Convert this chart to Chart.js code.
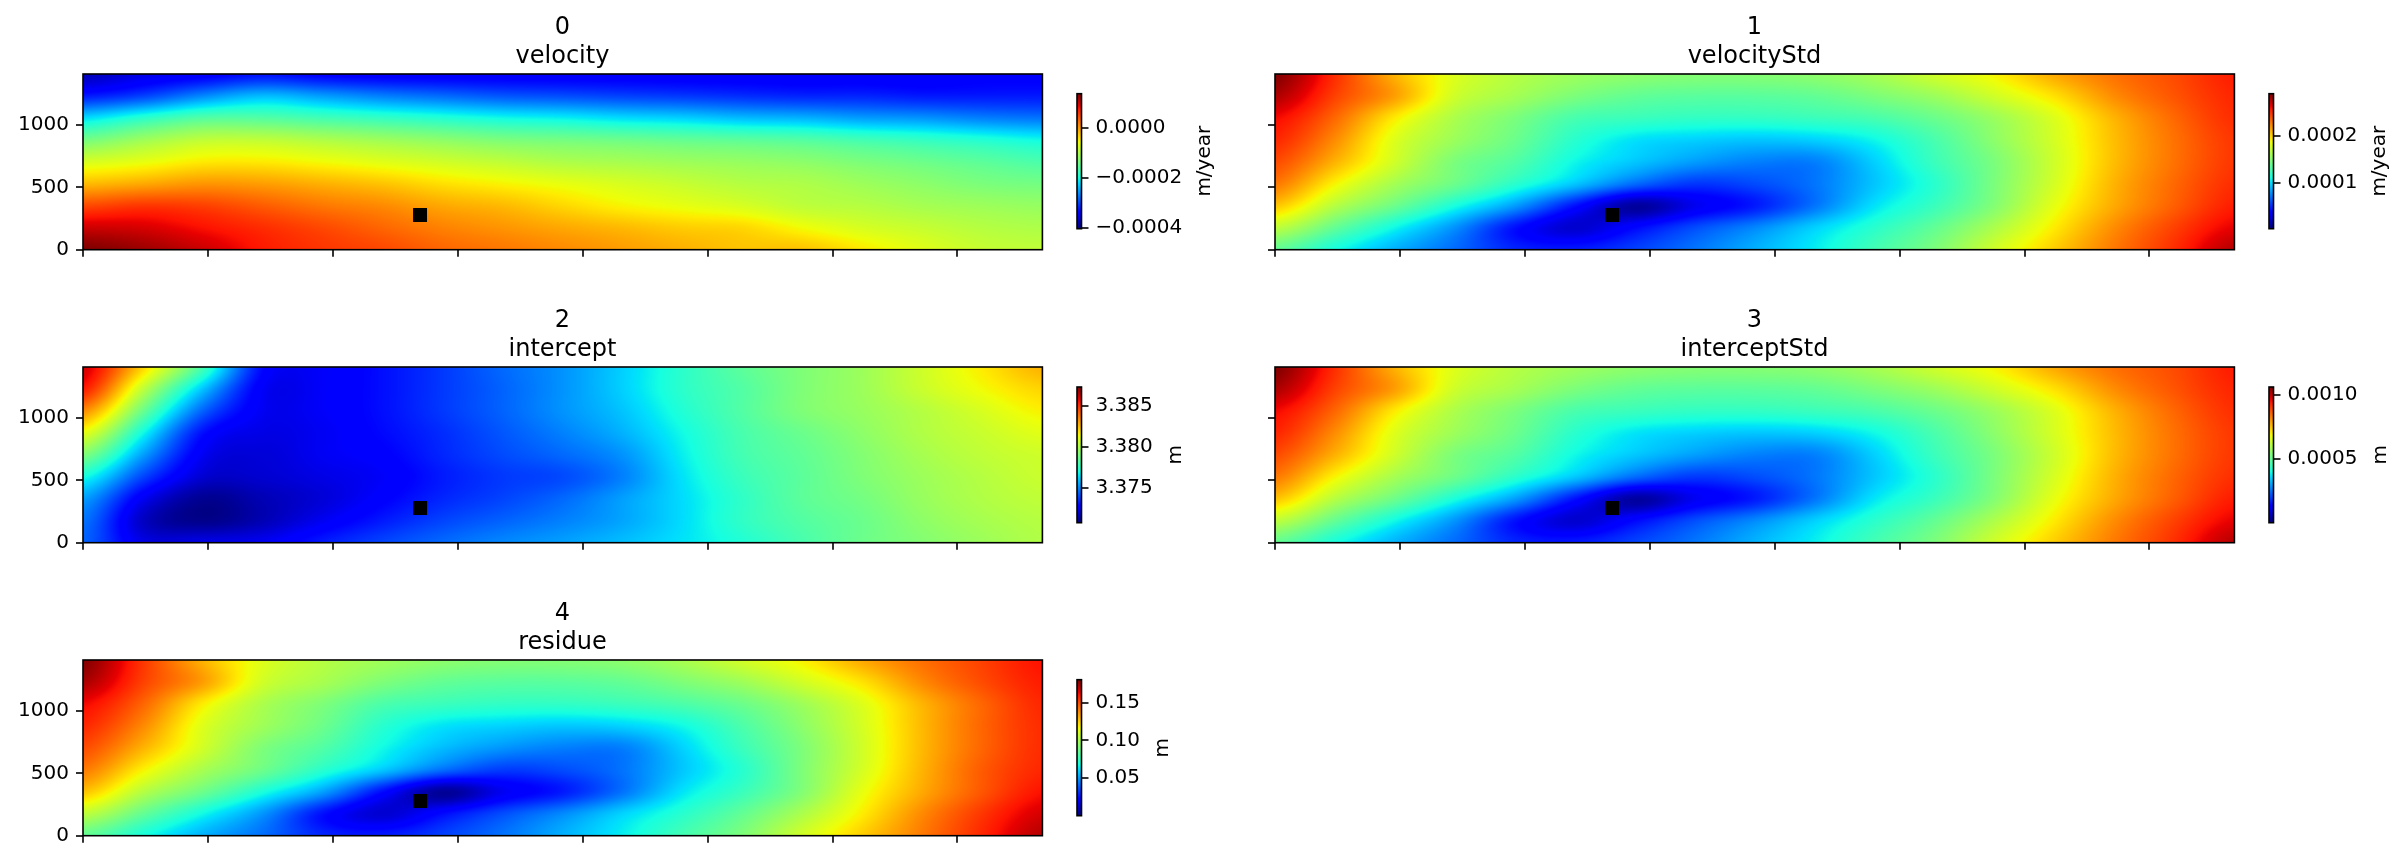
<!DOCTYPE html>
<html><head><meta charset="utf-8">
<script src="https://cdn.jsdelivr.net/npm/chart.js@4"></script>
<style>html,body{margin:0;padding:0;background:#fff;width:2404px;height:863px;overflow:hidden}canvas{position:absolute}</style>
</head><body>
<script>
// Grid nodes of the sampled fields (data coordinates)
const xNodes=[0,240,480,720,960,1200,1440,1680,1920,2160,2400,2640,2880,3120,3360,3600,3840];
const yNodes=[1408,1232,1056,880,704,528,352,176,0];
const xTicks=[0,500,1000,1500,2000,2500,3000,3500];
const yTicks=[0,500,1000];
const markerX=[1349], markerY=[278];

// velocity, in 1e-6 m/year
const velocityMicro=[
[-378,-356,-345,-329,-340,-345,-345,-345,-345,-345,-345,-345,-345,-345,-345,-340,-340],
[-324,-302,-264,-237,-253,-269,-280,-291,-296,-302,-307,-313,-318,-318,-324,-324,-324],
[-220,-188,-161,-161,-172,-182,-193,-204,-210,-220,-226,-237,-242,-253,-258,-269,-275],
[-139,-112,-90,-90,-101,-112,-123,-134,-139,-144,-150,-155,-161,-172,-182,-193,-204],
[-74,-63,-47,-47,-57,-68,-79,-90,-101,-106,-112,-117,-123,-134,-144,-155,-166],
[-19,-9,2,-3,-14,-25,-41,-52,-63,-74,-85,-96,-101,-112,-123,-134,-139],
[46,57,51,35,19,8,-9,-19,-36,-52,-63,-74,-90,-96,-106,-112,-117],
[100,95,78,62,46,29,13,2,-9,-19,-30,-36,-57,-74,-85,-96,-101],
[136,122,100,73,57,46,29,19,8,-3,-14,-25,-25,-47,-68,-85,-90]];
// velocityStd, in 1e-6 m/year
const velocityStdMicro=[
[289,250,209,180,166,157,152,149,149,152,160,175,189,212,229,241,255],
[278,244,215,175,160,146,137,134,134,137,146,157,175,195,221,238,252],
[261,232,192,163,146,128,123,120,120,123,128,140,157,180,209,232,250],
[252,221,180,157,140,117,102,97,94,97,108,128,152,177,206,229,247],
[241,209,175,146,131,108,94,82,74,74,97,123,146,175,206,229,247],
[227,189,160,140,117,94,68,53,59,71,94,117,146,177,209,232,250],
[203,166,140,111,82,42,10,30,45,71,102,123,149,183,212,235,255],
[169,137,108,79,42,22,39,59,76,97,117,137,163,192,221,244,264],
[137,111,88,68,48,45,56,71,88,105,126,146,175,201,227,250,276]];
// intercept, in mm
const interceptMilli=[
[3386.2,3382.1,3377.9,3372.9,3372.5,3373.0,3373.7,3374.5,3375.2,3376.2,3377.4,3378.4,3379.1,3379.7,3380.7,3381.7,3382.7],
[3385.4,3380.4,3376.0,3372.5,3372.5,3373.0,3373.7,3374.4,3375.2,3376.2,3377.4,3378.2,3379.1,3379.7,3380.6,3381.4,3382.1],
[3383.4,3378.7,3374.4,3372.4,3372.5,3373.0,3373.7,3374.4,3375.2,3376.0,3377.2,3378.2,3379.1,3379.6,3380.2,3380.9,3381.6],
[3381.2,3376.9,3373.0,3372.2,3372.4,3372.9,3373.5,3374.2,3374.9,3375.7,3376.9,3378.0,3378.7,3379.4,3380.1,3380.6,3381.1],
[3379.1,3375.4,3372.4,3372.0,3372.4,3372.7,3373.4,3374.0,3374.5,3375.2,3376.7,3377.9,3378.5,3379.2,3379.9,3380.4,3380.7],
[3377.0,3373.9,3371.9,3371.9,3372.2,3372.5,3373.2,3373.7,3374.0,3374.9,3376.5,3377.7,3378.4,3379.1,3379.7,3380.2,3380.6],
[3375.4,3372.4,3371.0,3371.5,3372.0,3372.7,3373.4,3373.9,3374.5,3375.4,3376.4,3377.5,3378.4,3378.9,3379.6,3380.1,3380.4],
[3374.7,3371.7,3370.9,3371.5,3372.4,3373.2,3373.9,3374.4,3374.9,3375.5,3376.4,3377.5,3378.2,3378.7,3379.4,3379.9,3380.2],
[3374.4,3372.2,3372.2,3372.4,3373.2,3373.9,3374.5,3375.0,3375.4,3375.9,3376.5,3377.2,3378.0,3378.7,3379.2,3379.7,3380.1]];
// interceptStd, in 1e-6 m
const interceptStdMicro=[
[1060,913,765,658,605,573,552,542,542,552,584,637,690,775,839,881,935],
[1020,892,786,637,584,531,499,489,489,499,531,573,637,712,807,871,924],
[956,850,701,595,531,467,446,435,435,446,467,510,573,658,765,850,913],
[924,807,658,573,510,425,372,350,340,350,393,467,552,648,754,839,903],
[881,765,637,531,478,393,340,297,266,266,350,446,531,637,754,839,903],
[828,690,584,510,425,340,244,191,212,255,340,425,531,648,765,850,913],
[743,605,510,404,297,149,32,106,159,255,372,446,542,669,775,860,935],
[616,499,393,287,149,74,138,212,276,350,425,499,595,701,807,892,966],
[499,404,319,244,170,159,202,255,319,382,457,531,637,733,828,913,1009]];
// residue, in mm
const residueMilli=[
[180,154,130,112,103,98,94,92,92,94,100,109,118,132,143,152,161],
[174,152,134,109,100,91,85,83,83,85,91,98,109,121,138,150,159],
[163,145,119,101,91,80,76,74,74,76,80,87,98,112,130,145,157],
[157,138,112,98,87,72,63,60,58,60,67,80,94,110,129,145,156],
[150,130,109,91,81,67,56,49,45,45,60,76,91,109,129,145,156],
[141,118,100,87,72,58,42,33,36,43,58,72,91,110,130,147,157],
[127,103,87,69,51,24,4,18,27,43,63,76,92,114,132,148,161],
[105,85,67,49,25,13,24,36,47,60,72,85,101,119,138,154,167],
[85,69,54,42,29,27,34,43,54,65,78,91,109,125,141,157,172]];

const titles=['velocity','velocityStd','intercept','interceptStd','residue'];
const units=['m/year','m/year','m','m','m'];
const unitScale=[1e-6,1e-6,1e-3,1e-6,1e-3];
const fields=[velocityMicro,velocityStdMicro,interceptMilli,interceptStdMicro,residueMilli];
const colorRange=[[-0.000404,0.000136],[0.0000021,0.0002894],[3.37072,3.38733],[0,0.00106],[0,0.1805]];
const cbTickValues=[[-0.0004,-0.0002,0],[0.0001,0.0002],[3.375,3.38,3.385],[0.0005,0.001],[0.05,0.1,0.15]];
const cbTickDigits=[4,4,3,4,2];
const xMax=3840, yMax=1408;

// Page placement of each panel
const FONT='"DejaVu Sans"';
Chart.defaults.font.family=FONT;
Chart.defaults.color='#000';
const panelPlace=[{l:0,w:1125,axL:83,top:0},{l:1180,w:1149,axL:95,top:0},{l:0,w:1125,axL:83,top:293},{l:1180,w:1149,axL:95,top:293},{l:0,w:1125,axL:83,top:586}];
const cbPlace=[
 {l:1060,ct:74,w:170,h:175,pt:19.7,pb:20.3,labelX:145},
 {l:2252,ct:74,w:152,h:175,pt:19.7,pb:20.3,labelX:128},
 {l:1060,ct:367,w:170,h:176,pt:20,pb:20.3,labelX:116},
 {l:2252,ct:367,w:152,h:176,pt:20,pb:20.3,labelX:129},
 {l:1060,ct:660,w:170,h:176,pt:19.7,pb:20.3,labelX:103}];

function jet(f){
  f=Math.max(0,Math.min(1,f));
  const seg=(p,q)=>{for(let i=1;i<p.length;i++){if(f<=p[i]){return q[i-1]+(q[i]-q[i-1])*(f-p[i-1])/(p[i]-p[i-1]);}}return q[q.length-1];};
  return [255*seg([0,.35,.66,.89,1],[0,0,1,1,.5]),255*seg([0,.125,.375,.64,.91,1],[0,0,1,1,0,0]),255*seg([0,.11,.34,.65,1],[.5,1,1,0,0])];
}
function cr(a,b,c,d,t){return b+.5*t*(c-a+t*(2*a-5*b+4*c-d+t*(3*(b-c)+d-a)));}
function sample(g,u,v){
  const nc=g[0].length,nr=g.length,cl=(n,m)=>Math.max(0,Math.min(m,n));
  const i=cl(Math.floor(u),nc-2),j=cl(Math.floor(v),nr-2);
  const row=k=>{const r=g[cl(j+k,nr-1)];return cr(r[cl(i-1,nc-1)],r[i],r[i+1],r[cl(i+2,nc-1)],u-i);};
  return cr(row(-1),row(0),row(1),row(2),v-j);
}
// The mark for one grid node: a shaded cell, sized from the chart's own scales
function cellStyle(ctx){
  const ch=ctx.chart;
  if(!ch.chartArea||!ctx.raw)return 'rect';
  const X=ch.scales.x,Y=ch.scales.y,g=ctx.dataset.grid,rg=ctx.dataset.range;
  ch.$cells=ch.$cells||{};
  if(ch.$cells[ctx.dataIndex])return ch.$cells[ctx.dataIndex];
  const p=ctx.raw,cx=X.getPixelForValue(p.x),cy=Y.getPixelForValue(p.y);
  const w=Math.ceil(Math.abs(X.getPixelForValue(xNodes[1])-X.getPixelForValue(xNodes[0])))+2;
  const h=Math.ceil(Math.abs(Y.getPixelForValue(yNodes[1])-Y.getPixelForValue(yNodes[0])))+2;
  if(!isFinite(w)||!isFinite(h))return 'rect';
  const c=document.createElement('canvas');c.width=w;c.height=h;
  const gc=c.getContext('2d'),img=gc.createImageData(w,h);
  const dx=xNodes[1]-xNodes[0],dy=yNodes[0]-yNodes[1];
  for(let b=0;b<h;b++)for(let a=0;a<w;a++){
    const xv=X.getValueForPixel(cx-w/2+a+.5),yv=Y.getValueForPixel(cy-h/2+b+.5);
    const val=sample(g,(xv-xNodes[0])/dx,(yNodes[0]-yv)/dy);
    const col=jet((val-rg[0])/(rg[1]-rg[0])),o=(b*w+a)*4;
    img.data[o]=col[0];img.data[o+1]=col[1];img.data[o+2]=col[2];img.data[o+3]=255;
  }
  gc.putImageData(img,0,0);
  ch.$cells[ctx.dataIndex]=c;
  return c;
}
const frame={id:'frame',afterDraw(ch){const a=ch.chartArea,c=ch.ctx;c.save();c.strokeStyle='#000';c.lineWidth=1.6;c.strokeRect(a.left,a.top,a.right-a.left,a.bottom-a.top);c.restore();}};
const cbLabel={id:'cbLabel',afterDraw(ch,args,opts){const a=ch.chartArea,c=ch.ctx;c.save();c.translate(opts.x,(a.top+a.bottom)/2);c.rotate(-Math.PI/2);c.font='20px '+FONT;c.fillStyle='#000';c.textAlign='center';c.textBaseline='middle';c.fillText(opts.text,0,0);c.restore();}};
function mk(l,t,w,h){const c=document.createElement('canvas');c.width=w;c.height=h;c.style.left=l+'px';c.style.top=t+'px';document.body.appendChild(c);return c;}
const tickGrid={drawOnChartArea:false,drawTicks:true,tickLength:7,tickWidth:1.6,tickColor:'#000',lineWidth:0};

fields.forEach((raw,n)=>{
  const pl=panelPlace[n],grid=raw.map(r=>r.map(v=>v*unitScale[n]));
  const showY=n%2===0;
  const pts=grid.flatMap((r,i)=>r.map((v,j)=>({x:xNodes[j],y:yNodes[i],v})));
  new Chart(mk(pl.l,pl.top,pl.w,270),{type:'scatter',
    data:{datasets:[
      {label:'marker',data:markerX.map((x,i)=>({x,y:markerY[i]})),pointStyle:'rect',pointRadius:9.9,pointBorderWidth:0,backgroundColor:'#000',clip:0},
      {label:titles[n],grid,range:colorRange[n],data:pts,pointStyle:cellStyle,pointRadius:1,pointBorderWidth:0,clip:0}
    ]},
    options:{responsive:false,animation:false,events:[],
      layout:{padding:0},
      plugins:{legend:{display:false},tooltip:{enabled:false},
        title:{display:true,text:[String(n),titles[n]],color:'#000',font:{size:24,weight:'normal',family:FONT},padding:{top:13.5,bottom:2.9}}},
      scales:{
        x:{type:'linear',min:0,max:xMax,border:{display:false},grid:tickGrid,
          afterBuildTicks(a){a.ticks=xTicks.map(v=>({value:v}));},
          ticks:{display:false,autoSkip:false},afterFit(s){s.height=20.3;}},
        y:{type:'linear',min:0,max:yMax,border:{display:false},grid:tickGrid,
          afterBuildTicks(a){a.ticks=yTicks.map(v=>({value:v}));},
          ticks:{display:showY,autoSkip:false,padding:7,color:'#000',font:{size:20,family:FONT},callback:v=>String(v)},
          afterFit(s){s.width=pl.axL;}},
        yBalance:{type:'linear',position:'right',min:0,max:yMax,border:{display:false},grid:{display:false},ticks:{display:false},
          afterFit(s){s.width=pl.w-pl.axL-959.4;}}
      }},
    plugins:[frame]});

  const cp=cbPlace[n],rg=colorRange[n];
  new Chart(mk(cp.l,cp.ct,cp.w,cp.h),{type:'bar',
    data:{labels:[units[n]],datasets:[{label:titles[n],data:[[rg[0],rg[1]]],barPercentage:1,categoryPercentage:1,borderWidth:0,
      backgroundColor(ctx){const a=ctx.chart.chartArea;if(!a)return '#000';const g=ctx.chart.ctx.createLinearGradient(0,a.bottom,0,a.top);for(let i=0;i<=64;i++){const c=jet(i/64);g.addColorStop(i/64,`rgb(${c[0]|0},${c[1]|0},${c[2]|0})`);}return g;}}]},
    options:{responsive:false,animation:false,events:[],
      layout:{padding:{left:17,top:cp.pt,bottom:cp.pb,right:0}},
      plugins:{legend:{display:false},tooltip:{enabled:false},title:{display:false},cbLabel:{text:units[n],x:cp.labelX}},
      scales:{
        x:{display:false},
        y:{type:'linear',position:'right',min:rg[0],max:rg[1],border:{display:false},grid:tickGrid,
          afterBuildTicks(a){a.ticks=cbTickValues[n].map(v=>({value:v}));},
          ticks:{padding:7,autoSkip:false,color:'#000',font:{size:20,family:FONT},callback:v=>v.toFixed(cbTickDigits[n]).replace('-','\u2212')},
          afterFit(s){s.width=cp.w-17-4.5;}}
      }},
    plugins:[frame,cbLabel]});
});
</script>
</body></html>
